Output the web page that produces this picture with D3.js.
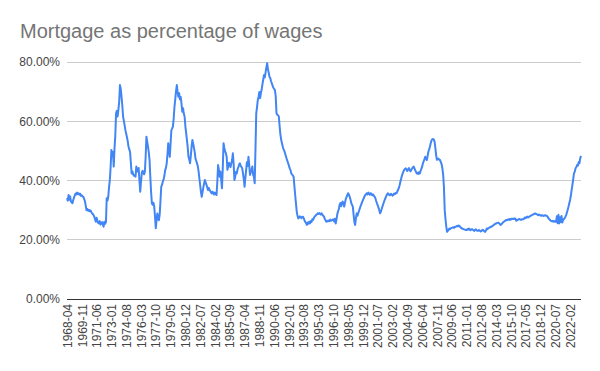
<!DOCTYPE html>
<html>
<head>
<meta charset="utf-8">
<script src="https://cdn.jsdelivr.net/npm/d3@7"></script>
<style>
  html, body { margin: 0; padding: 0; background: #fff; }
  svg { display: block; font-family: Arial, "Liberation Sans", sans-serif; }
</style>
</head>
<body>
<svg id="chart" width="600" height="371"></svg>
<script>
// ---------- DATA ----------
const title = "Mortgage as percentage of wages";
const startYear = 1968;
const startMonth = 4; // April 1968
// Monthly values (%), one row per calendar year (1968 starts in April, 2023 ends in April)
const values1968 = [34.0, 33.2, 35.1, 33.5, 34.6, 33.0, 32.6, 32.3, 33.4];
const values1969_1979 = [
  [34.2, 35.0, 35.6, 35.3, 35.9, 35.4, 35.7, 35.2, 35.5, 34.8, 35.0, 34.6],
  [34.5, 33.8, 33.0, 31.6, 30.0, 30.4, 29.8, 30.1, 29.6, 29.9, 29.5, 29.0],
  [28.7, 28.4, 27.8, 26.9, 26.1, 27.4, 26.5, 25.7, 25.5, 26.3, 25.1, 25.6],
  [26.0, 25.2, 24.4, 26.1, 25.4, 26.0, 34.0, 33.2, 34.5, 37.8, 40.2, 44.5],
  [50.3, 48.2, 49.6, 44.7, 50.8, 55.0, 62.7, 63.5, 61.6, 63.9, 66.5, 72.2],
  [71.0, 68.3, 65.4, 61.5, 60.2, 58.6, 57.0, 55.8, 54.6, 53.2, 51.4, 50.5],
  [49.6, 46.0, 42.4, 43.1, 42.0, 41.6, 41.8, 41.3, 44.7, 43.5, 43.0, 44.2],
  [40.1, 36.2, 39.5, 42.4, 43.3, 42.7, 42.1, 43.0, 48.0, 54.8, 53.0, 51.4],
  [49.5, 46.9, 41.2, 36.0, 32.3, 31.8, 32.5, 31.2, 28.0, 23.9, 26.5, 28.9],
  [27.4, 26.6, 28.5, 33.0, 37.9, 38.5, 39.6, 40.3, 41.5, 43.4, 44.2, 45.8],
  [48.7, 52.6, 50.5, 48.0, 52.4, 57.0, 57.5, 58.2, 61.0, 64.9, 67.4, 70.1]
];
const values1980_1991 = [
  [72.2, 70.0, 68.3, 69.5, 67.4, 68.2, 66.0, 63.2, 64.4, 62.5, 61.6, 58.3],
  [56.0, 53.7, 51.2, 48.0, 47.1, 45.8, 48.5, 51.4, 53.7, 52.5, 51.0, 49.6],
  [47.4, 46.6, 45.7, 44.8, 43.0, 40.6, 38.4, 36.2, 34.5, 36.0, 37.6, 38.9],
  [40.2, 39.4, 38.6, 37.8, 36.8, 37.5, 36.9, 36.4, 36.0, 35.6, 36.2, 35.7],
  [35.3, 35.9, 35.4, 35.1, 39.5, 45.2, 43.6, 41.3, 43.0, 40.2, 37.4, 44.0],
  [52.6, 51.0, 49.8, 49.2, 48.0, 43.6, 44.8, 46.0, 45.2, 44.5, 45.8, 46.9],
  [49.2, 45.5, 40.2, 41.3, 42.9, 42.4, 43.8, 44.5, 45.3, 45.8, 45.0, 44.6],
  [44.1, 42.3, 40.5, 37.9, 40.8, 43.5, 46.2, 44.9, 48.0, 45.1, 41.9, 42.8],
  [43.6, 44.7, 42.0, 41.2, 39.1, 50.5, 62.7, 64.8, 67.2, 68.3, 69.9, 67.8],
  [69.5, 70.8, 72.5, 74.1, 75.6, 74.8, 76.5, 78.2, 79.6, 77.6, 76.4, 75.0],
  [74.6, 73.5, 72.8, 72.0, 71.3, 70.9, 70.5, 68.4, 62.7, 62.2, 62.0, 61.6],
  [58.4, 55.6, 53.8, 52.6, 51.5, 50.6, 50.0, 49.2, 48.3, 47.4, 46.6, 45.8]
];
const values1992_2007 = [
  [45.0, 44.1, 43.5, 42.4, 42.0, 41.7, 41.3, 38.0, 35.1, 32.3, 29.5, 28.1],
  [27.2, 27.5, 27.9, 27.6, 27.3, 27.8, 27.8, 27.2, 26.5, 26.0, 25.6, 25.0],
  [25.8, 25.4, 26.1, 25.5, 26.3, 26.0, 26.9, 26.7, 27.4, 27.8, 28.1, 28.4],
  [28.6, 28.9, 28.7, 29.0, 28.8, 28.5, 28.9, 28.4, 28.1, 27.8, 27.0, 26.6],
  [26.1, 26.4, 26.2, 26.5, 26.3, 26.8, 26.4, 26.6, 26.7, 26.9, 26.2, 27.1],
  [25.5, 26.8, 28.5, 29.6, 30.3, 31.7, 32.4, 31.3, 32.5, 32.9, 32.0, 31.2],
  [32.6, 33.8, 34.5, 35.1, 35.7, 35.2, 34.5, 33.6, 32.4, 31.8, 31.2, 28.5],
  [26.0, 25.0, 27.3, 28.9, 28.1, 29.0, 29.8, 30.6, 31.4, 32.0, 32.8, 33.4],
  [34.0, 34.6, 35.1, 35.4, 35.7, 35.3, 35.9, 35.5, 35.2, 35.7, 35.4, 35.0],
  [35.3, 34.9, 34.5, 34.0, 33.1, 32.3, 31.6, 30.8, 30.0, 28.9, 29.5, 30.3],
  [31.2, 32.0, 32.8, 33.5, 34.1, 34.8, 35.3, 35.7, 35.4, 35.0, 35.1, 35.5],
  [35.3, 34.9, 35.2, 35.6, 35.4, 35.8, 35.7, 36.2, 36.8, 37.4, 38.3, 39.5],
  [40.6, 41.5, 42.4, 43.0, 43.6, 43.9, 44.1, 43.6, 43.2, 43.8, 44.2, 43.6],
  [43.1, 43.5, 44.0, 44.4, 44.7, 44.2, 43.5, 43.0, 42.4, 42.6, 42.2, 42.8],
  [42.4, 43.2, 43.9, 44.6, 45.8, 46.5, 47.2, 48.0, 47.5, 46.9, 48.2, 49.7],
  [50.5, 51.4, 52.6, 53.5, 53.9, 54.0, 53.8, 53.1, 51.0, 48.5, 47.0, 47.2]
];
const values2008_2023 = [
  [47.4, 47.0, 46.9, 46.2, 45.5, 44.1, 42.0, 37.9, 30.0, 27.0, 24.5, 22.7],
  [23.0, 23.4, 23.8, 23.6, 23.9, 24.0, 24.1, 24.2, 24.0, 24.3, 24.4, 24.5],
  [24.7, 24.5, 24.8, 24.6, 24.3, 24.0, 23.8, 23.7, 23.6, 23.5, 23.4, 23.3],
  [23.3, 23.6, 23.4, 23.8, 23.5, 23.2, 23.5, 23.6, 23.4, 23.2, 23.0, 23.3],
  [23.5, 23.2, 23.0, 23.0, 23.3, 23.1, 22.8, 22.9, 23.2, 23.4, 23.1, 22.8],
  [22.7, 23.2, 23.8, 23.6, 23.9, 24.0, 24.2, 24.3, 24.4, 24.6, 24.8, 25.0],
  [25.2, 25.4, 25.5, 25.6, 25.7, 25.8, 25.5, 25.2, 25.0, 25.3, 25.6, 25.9],
  [26.1, 26.3, 26.5, 26.7, 26.6, 26.8, 26.9, 26.7, 27.0, 26.8, 27.1, 27.0],
  [27.1, 27.0, 27.2, 27.0, 26.4, 26.6, 26.8, 26.9, 27.0, 26.8, 26.7, 26.9],
  [26.9, 26.9, 27.2, 27.5, 27.3, 27.6, 27.8, 27.5, 27.7, 27.9, 28.0, 28.2],
  [28.3, 28.5, 28.6, 28.7, 28.9, 28.8, 28.6, 28.5, 28.3, 28.5, 28.4, 28.2],
  [28.1, 28.3, 28.2, 28.0, 28.2, 28.3, 28.1, 28.1, 27.8, 27.4, 27.0, 26.7],
  [26.5, 26.3, 26.2, 26.4, 26.1, 26.3, 26.1, 26.1, 27.9, 25.6, 28.4, 25.5],
  [27.6, 26.0, 28.0, 25.8, 26.7, 27.0, 27.3, 27.8, 28.4, 29.3, 30.2, 31.2],
  [32.3, 33.5, 35.0, 36.8, 38.5, 40.5, 42.4, 43.0, 44.1, 44.6, 45.2, 45.0],
  [46.2, 45.8, 47.5, 48.3]
];
const yTicks = [0, 20, 40, 60, 80];
const xTickLabels = [
  "1968-04","1969-11","1971-06","1973-01","1974-08","1976-03","1977-10",
  "1979-05","1980-12","1982-07","1984-02","1985-09","1987-04","1988-11",
  "1990-06","1992-01","1993-08","1995-03","1996-10","1998-05","1999-12",
  "2001-07","2003-02","2004-09","2006-04","2007-11","2009-06","2011-01",
  "2012-08","2014-03","2015-10","2017-05","2018-12","2020-07","2022-02"
];

// ---------- BUILD ----------
const values = [values1968, ...values1969_1979, ...values1980_1991, ...values1992_2007, ...values2008_2023].flat();
const months = values.map((_, i) => {
  const t = (startMonth - 1) + i;
  return `${startYear + Math.floor(t / 12)}-${String(t % 12 + 1).padStart(2, "0")}`;
});
const data = months.map((m, i) => ({ month: m, value: values[i] }));

const svg = d3.select("#chart");
const plot = { left: 67, right: 581, top: 62, bottom: 299 };

const x = d3.scalePoint().domain(months).range([plot.left, plot.right]);
const y = d3.scaleLinear().domain([0, 80]).range([plot.bottom, plot.top]);

// Title
svg.append("text")
  .attr("x", 20).attr("y", 38)
  .attr("fill", "#757575")
  .attr("font-size", 20)
  .text(title);

// Gridlines
svg.append("g")
  .selectAll("line")
  .data(yTicks.filter(d => d !== 0))
  .join("line")
  .attr("x1", plot.left).attr("x2", plot.right)
  .attr("y1", d => y(d)).attr("y2", d => y(d))
  .attr("stroke", "#cccccc").attr("stroke-width", 1)
  .attr("shape-rendering", "crispEdges");

// Y axis labels
const yAxis = d3.axisLeft(y).tickValues(yTicks).tickSize(0).tickPadding(7)
  .tickFormat(d => d3.format(".2f")(d) + "%");
const gy = svg.append("g").attr("transform", `translate(${plot.left},0)`).call(yAxis);
gy.select(".domain").remove();
gy.selectAll("text").attr("fill", "#444444").attr("font-size", 12)
  .attr("font-family", "Arial, 'Liberation Sans', sans-serif");

// Line
const line = d3.line().x(d => x(d.month)).y(d => y(d.value));
svg.append("path")
  .datum(data)
  .attr("fill", "none")
  .attr("stroke", "#4285f4")
  .attr("stroke-width", 2)
  .attr("stroke-linejoin", "round")
  .attr("d", line);

// X axis
const xAxis = d3.axisBottom(x).tickValues(xTickLabels).tickSize(0).tickPadding(0);
const gx = svg.append("g").attr("transform", `translate(0,${plot.bottom})`).call(xAxis);
gx.select(".domain").attr("stroke", "#333333").attr("d", `M${plot.left},0.5H${plot.right}`);
gx.selectAll("text")
  .attr("fill", "#444444")
  .attr("font-size", 12)
  .attr("font-family", "Arial, 'Liberation Sans', sans-serif")
  .attr("text-anchor", "end")
  .attr("transform", "rotate(-90)")
  .attr("x", -5)
  .attr("y", 0)
  .attr("dy", "0.35em");
</script>
</body>
</html>
